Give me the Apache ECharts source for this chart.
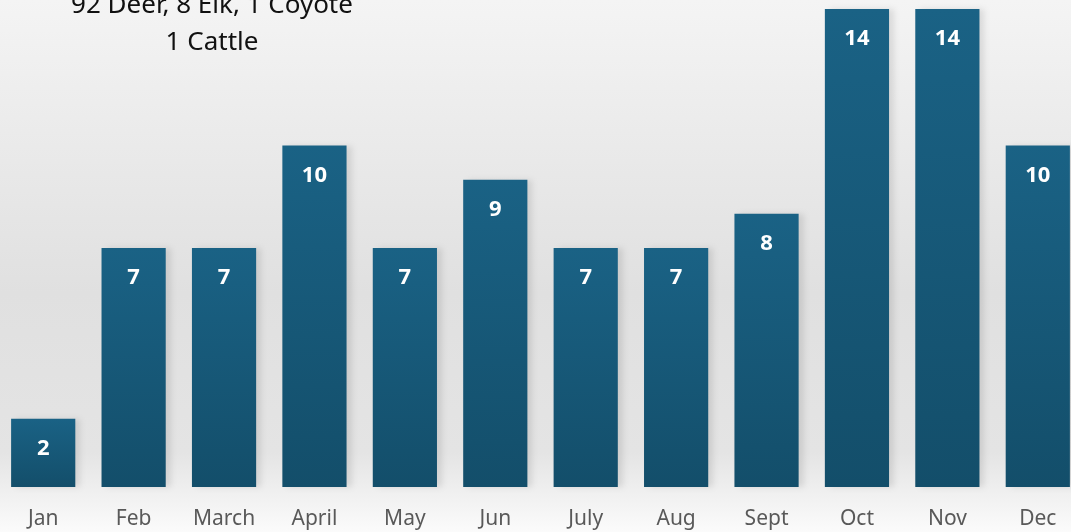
<!DOCTYPE html>
<html>
<head>
<meta charset="utf-8">
<script src="https://cdn.jsdelivr.net/npm/echarts@6/dist/echarts.min.js"></script>
<style>
  html, body { margin: 0; padding: 0; }
  #main { width: 1071px; height: 532px; }
</style>
</head>
<body>
<div id="main"></div>
<script>
var months = ['Jan', 'Feb', 'March', 'April', 'May', 'Jun', 'July', 'Aug', 'Sept', 'Oct', 'Nov', 'Dec'];
var kills = [2, 7, 7, 10, 7, 9, 7, 7, 8, 14, 14, 10];
var noteLines = ['92 Deer, 8 Elk, 1 Coyote', '1 Cattle'];

var myChart = echarts.init(document.getElementById('main'));

// 背景渐变 + 柱状图
var option = {
    backgroundColor: new echarts.graphic.LinearGradient(0, 0, 0, 1, [
        { offset: 0, color: '#f4f4f4' },
        { offset: 0.55, color: '#e0e0e0' },
        { offset: 0.85, color: '#e4e4e4' },
        { offset: 1, color: '#fbfbfb' }
    ]),
    title: {
        text: noteLines.join('\n'),
        left: 207,
        top: -18,
        textAlign: 'center',
        textStyle: {
            fontFamily: 'Noto Sans',
            fontSize: 26,
            fontWeight: 'normal',
            color: '#111',
            lineHeight: 37
        }
    },
    grid: {
        left: -2,
        right: -12,
        top: 9,
        bottom: 45,
        outerBoundsMode: 'none',
        containLabel: false
    },
    xAxis: {
        type: 'category',
        data: months,
        axisLine: { show: false },
        axisTick: { show: false },
        axisLabel: {
            margin: 22,
            fontFamily: 'Noto Sans',
            fontSize: 21,
            color: '#595959'
        }
    },
    yAxis: {
        type: 'value',
        min: 0,
        max: 14,
        show: false,
        splitLine: { show: false }
    },
    series: [
        {
            type: 'bar',
            data: kills,
            barCategoryGap: '29%',
            itemStyle: {
                color: new echarts.graphic.LinearGradient(0, 0, 0, 1, [
                    { offset: 0, color: '#1a6285' },
                    { offset: 1, color: '#134e6a' }
                ]),
                shadowColor: 'rgba(0,0,0,0.10)',
                shadowBlur: 6,
                shadowOffsetX: 5,
                shadowOffsetY: 0
            },
            label: {
                show: true,
                position: 'insideTop',
                distance: 19,
                fontFamily: 'Noto Sans',
                fontSize: 22,
                fontWeight: 'bold',
                color: '#ffffff'
            }
        }
    ]
};
myChart.setOption(option);
</script>
</body>
</html>
